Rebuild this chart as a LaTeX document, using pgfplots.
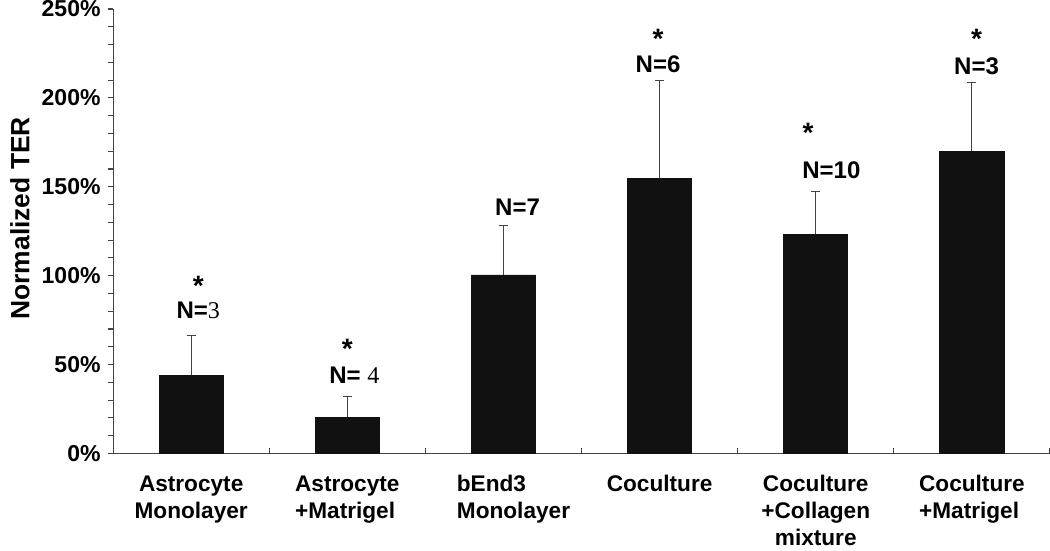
\documentclass[border=0pt]{standalone}
\usepackage{pgfplots}
\pgfplotsset{compat=1.18}
\usepackage{fontspec}
\setmainfont{Liberation Sans}
\newfontfamily\serifdigits{Liberation Serif}

\definecolor{barblack}{HTML}{111111}
\definecolor{axisgray}{HTML}{444444}

\begin{document}
\begin{tikzpicture}
\useasboundingbox (-56.5bp,-48.5bp) rectangle (468bp,226.5bp);
\begin{axis}[
  at={(0,0)}, anchor=south west,
  scale only axis, width=468bp, height=222bp,
  xmin=0.5, xmax=6.5, ymin=0, ymax=250,
  axis x line*=bottom, axis y line*=left,
  axis line style={draw=axisgray, line width=0.6bp},
  tick style={draw=axisgray, line width=0.6bp},
  major tick length=2.75bp, minor tick length=2.75bp,
  xtick align=inside, ytick align=outside,
  xtick={1.5,2.5,...,6.5}, xticklabels={},
  extra x ticks={1,2,3,4,5,6},
  extra x tick style={major tick length=0pt},
  extra x tick labels={
    \begin{tabular}[t]{@{}c@{}}Astrocyte\\Monolayer\end{tabular},
    \begin{tabular}[t]{@{}l@{}}Astrocyte\\+Matrigel\end{tabular},
    \hspace*{10bp}\begin{tabular}[t]{@{}l@{}}bEnd3\\Monolayer\end{tabular},
    \begin{tabular}[t]{@{}c@{}}Coculture\end{tabular},
    \begin{tabular}[t]{@{}c@{}}Coculture\\+Collagen\\mixture\end{tabular},
    \begin{tabular}[t]{@{}l@{}}Coculture\\+Matrigel\end{tabular}},
  xticklabel style={font=\bfseries\fontsize{11.3bp}{13.5bp}\selectfont, anchor=north, yshift=-6bp},
  ytick={0,50,...,250}, minor y tick num=4,
  yticklabel={\pgfmathprintnumber{\tick}\%},
  /pgf/number format/assume math mode=true,
  yticklabel style={font=\bfseries\fontsize{11.5bp}{13bp}\selectfont},
  ylabel={Normalized TER},
  ylabel style={font=\bfseries\fontsize{13.2bp}{15bp}\selectfont, at={(axis description cs:0,0.529)}, anchor=center, yshift=46.5bp},
  clip=false,
]
\addplot[ybar, bar width=32bp, fill=barblack, draw=barblack,
  error bars/.cd, y dir=plus, y explicit,
  error bar style={line width=0.5bp, draw=axisgray},
  error mark options={rotate=90, mark size=2.25bp, line width=0.5bp, draw=axisgray}]
  coordinates {
  (1,43.9) +- (0,22.5)
  (2,20.4) +- (0,11.9)
  (3,100.4) +- (0,28.0)
  (4,154.7) +- (0,55.2)
  (5,123.3) +- (0,24.2)
  (6,170.0) +- (0,38.5)
};

% significance marks and group sizes
\begin{scope}[every node/.style={anchor=base, inner sep=0pt, font=\bfseries\fontsize{12bp}{14bp}\selectfont}]
\node at (axis cs:1.045,76.0) {N={\serifdigits\mdseries 3}};
\node at (axis cs:2.045,39.4) {N= {\serifdigits\mdseries 4}};
\node at (axis cs:3.09,134.0) {N=7};
\node at (axis cs:3.99,214.1) {N=6};
\node at (axis cs:5.10,154.8) {N=10};
\node at (axis cs:6.03,213.4) {N=3};
\end{scope}
\begin{scope}[every node/.style={anchor=base, inner sep=0pt, font=\bfseries\fontsize{14bp}{16bp}\selectfont}]
\node at (axis cs:1.045,88.9) {*};
\node at (axis cs:2.0,53.5) {*};
\node at (axis cs:3.99,228.0) {*};
\node at (axis cs:4.95,174.7) {*};
\node at (axis cs:6.03,227.9) {*};
\end{scope}
\end{axis}
\end{tikzpicture}
\end{document}
